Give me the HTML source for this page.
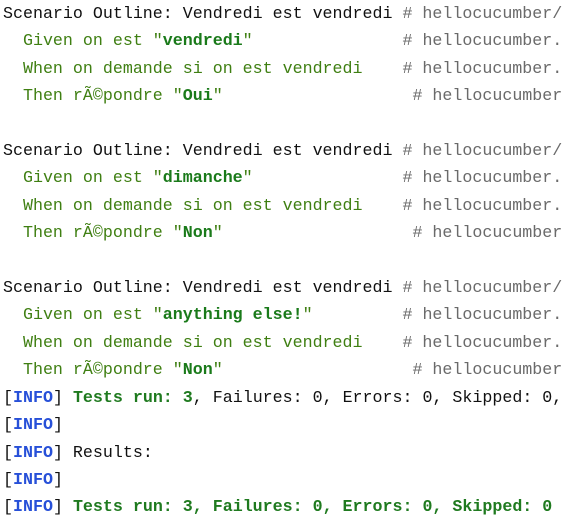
<!DOCTYPE html>
<html><head><meta charset="utf-8"><style>
html,body{margin:0;padding:0;background:#fff;width:563px;height:520px;overflow:hidden}
pre{margin:0;position:absolute;left:3px;top:0px;font-family:"Liberation Mono","DejaVu Sans Mono",monospace;font-size:16.65px;line-height:27.4px;color:#111;letter-spacing:0}
.s{color:#3f7f12}.b{color:#1a7a1a;font-weight:bold}.c{color:#6a6a6a}.i{color:#2750d8;font-weight:bold}.g{color:#1f7a1f;font-weight:bold}
</style></head><body>
<pre>Scenario Outline: Vendredi est vendredi <span class="c"># hellocucumber/</span>
<span class="s">  Given on est "<span class="b">vendredi</span>"</span>               <span class="c"># hellocucumber.</span>
<span class="s">  When on demande si on est vendredi</span>    <span class="c"># hellocucumber.</span>
<span class="s">  Then rÃ©pondre "<span class="b">Oui</span>"</span>                   <span class="c"># hellocucumber</span>

Scenario Outline: Vendredi est vendredi <span class="c"># hellocucumber/</span>
<span class="s">  Given on est "<span class="b">dimanche</span>"</span>               <span class="c"># hellocucumber.</span>
<span class="s">  When on demande si on est vendredi</span>    <span class="c"># hellocucumber.</span>
<span class="s">  Then rÃ©pondre "<span class="b">Non</span>"</span>                   <span class="c"># hellocucumber</span>

Scenario Outline: Vendredi est vendredi <span class="c"># hellocucumber/</span>
<span class="s">  Given on est "<span class="b">anything else!</span>"</span>         <span class="c"># hellocucumber.</span>
<span class="s">  When on demande si on est vendredi</span>    <span class="c"># hellocucumber.</span>
<span class="s">  Then rÃ©pondre "<span class="b">Non</span>"</span>                   <span class="c"># hellocucumber</span>
[<span class="i">INFO</span>] <span class="g">Tests run: 3</span>, Failures: 0, Errors: 0, Skipped: 0,
[<span class="i">INFO</span>]
[<span class="i">INFO</span>] Results:
[<span class="i">INFO</span>]
[<span class="i">INFO</span>] <span class="g">Tests run: 3, Failures: 0, Errors: 0, Skipped: 0</span></pre>
</body></html>
